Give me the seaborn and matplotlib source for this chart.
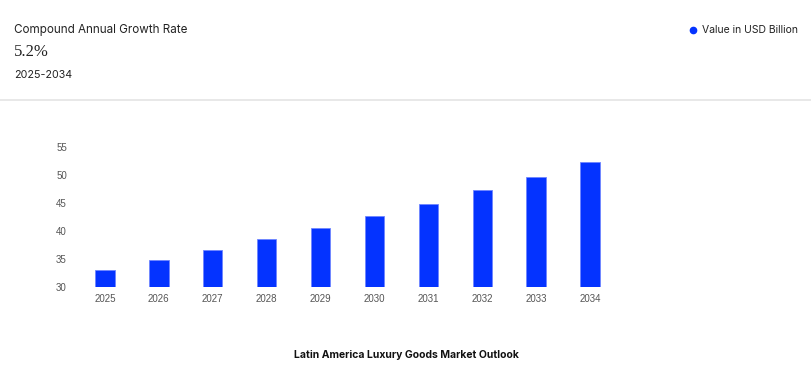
import pandas as pd
import matplotlib.pyplot as plt
import seaborn as sns
from matplotlib.lines import Line2D

# Data
years = ['2025', '2026', '2027', '2028', '2029', '2030', '2031', '2032', '2033', '2034']
values = [33.1, 34.8, 36.6, 38.6, 40.6, 42.7, 44.9, 47.3, 49.7, 52.4]
y_ticks = [30, 35, 40, 45, 50, 55]

sns.set_style('white')
plt.rcParams['font.family'] = ['Inter', 'DejaVu Sans']

bar_color = '#0433ff'
df = pd.DataFrame({'year': years, 'value': values})

fig = plt.figure(figsize=(8.12, 3.9), dpi=100)
ax = fig.add_axes([78 / 812, 1 - 287.3 / 390, 539 / 812, 140 / 390])

sns.barplot(data=df, x='year', y='value', color=bar_color, width=0.36,
            saturation=1, edgecolor='#6f86ff', linewidth=0.6, ax=ax)

ax.set_xlim(-0.5, 9.5)
ax.set_ylim(30, 55)
ax.set_yticks(y_ticks)
ax.set_xlabel('')
ax.set_ylabel('')
ax.tick_params(axis='both', length=0, labelsize=7, labelcolor='#555555')
ax.tick_params(axis='y', pad=8)
ax.tick_params(axis='x', pad=5)
for lbl in ax.get_xticklabels() + ax.get_yticklabels():
    lbl.set_family('Liberation Sans')
sns.despine(ax=ax, left=True, bottom=True)
ax.grid(False)

# Header block
fig.text(14 / 812, 1 - 30 / 390, 'Compound Annual Growth Rate', fontsize=8.4,
         color='#222222', va='center', ha='left')
fig.text(14 / 812, 1 - 52 / 390, '5.2%', fontsize=12, color='#222222',
         va='center', ha='left', family='Liberation Serif')
fig.text(14 / 812, 1 - 75 / 390, '2025-2034', fontsize=7.7, color='#222222',
         va='center', ha='left')
fig.add_artist(Line2D([0, 1], [1 - 99.5 / 390, 1 - 99.5 / 390],
                      transform=fig.transFigure, color='#e4e4e4', linewidth=1.2))

# Legend
fig.add_artist(Line2D([693 / 812], [1 - 30 / 390], transform=fig.transFigure,
                      marker='o', markersize=4.5, color=bar_color, linestyle='none'))
fig.text(702 / 812, 1 - 30 / 390, 'Value in USD Billion', fontsize=7.5,
         color='#222222', va='center', ha='left')

# Title at bottom
fig.text(0.5, 1 - 355 / 390, 'Latin America Luxury Goods Market Outlook',
         fontsize=7.5, fontweight='bold', color='#111111', ha='center', va='center')

fig.savefig('out.png', dpi=100)
